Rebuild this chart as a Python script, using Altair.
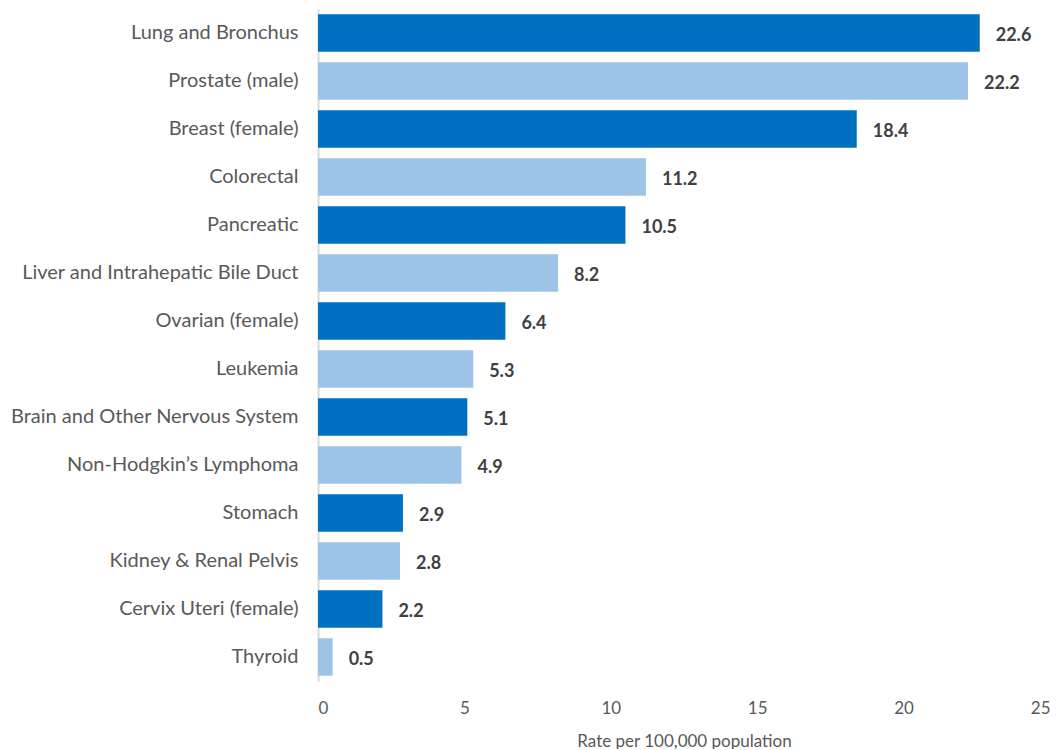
import altair as alt
import pandas as pd

sites = ["Lung and Bronchus", "Prostate (male)", "Breast (female)", "Colorectal",
         "Pancreatic", "Liver and Intrahepatic Bile Duct", "Ovarian (female)",
         "Leukemia", "Brain and Other Nervous System", "Non-Hodgkin\u2019s Lymphoma",
         "Stomach", "Kidney & Renal Pelvis", "Cervix Uteri (female)", "Thyroid"]
rates = [22.6, 22.2, 18.4, 11.2, 10.5, 8.2, 6.4, 5.3, 5.1, 4.9, 2.9, 2.8, 2.2, 0.5]
shade = ["dark" if i % 2 == 0 else "light" for i in range(len(sites))]

df = pd.DataFrame({"site": sites, "rate": rates, "shade": shade,
                   "label": [f"{r:.1f}" for r in rates]})

FONT = "Lato"

base = alt.Chart(df).encode(
    y=alt.Y("site:N", sort=sites, title=None,
            scale=alt.Scale(paddingInner=0.22, paddingOuter=0.11),
            axis=alt.Axis(labelFontSize=20, labelColor="#595959", labelFont=FONT,
                          ticks=False, labelPadding=20, domainColor="#d9d9d9",
                          domainWidth=2, labelLimit=400)),
)

bars = base.mark_bar().encode(
    x=alt.X("rate:Q", title="Rate per 100,000 population",
            scale=alt.Scale(domain=[0, 25], nice=False),
            axis=alt.Axis(values=[0, 5, 10, 15, 20, 25], grid=False, domain=False,
                          ticks=False, labelFontSize=17, labelColor="#595959",
                          labelFont=FONT, labelPadding=19, titleFont=FONT,
                          titleFontSize=17, titleFontWeight="normal",
                          titleColor="#595959", titlePadding=17)),
    color=alt.Color("shade:N", scale=alt.Scale(domain=["dark", "light"],
                                               range=["#0070c0", "#9dc3e6"]),
                    legend=None),
)

text = base.mark_text(align="left", dx=16, dy=3, fontSize=18, fontWeight="bold",
                      color="#404040", font=FONT).encode(
    x="rate:Q", text="label:N")

chart = (bars + text).properties(
    width=732, height=672,
    autosize=alt.AutoSizeParams(type="none"),
    padding={"left": 310, "top": 1, "right": 6, "bottom": 68},
).configure_view(stroke=None)

chart.save("out.html", embed_options={"renderer": "svg", "actions": False})
